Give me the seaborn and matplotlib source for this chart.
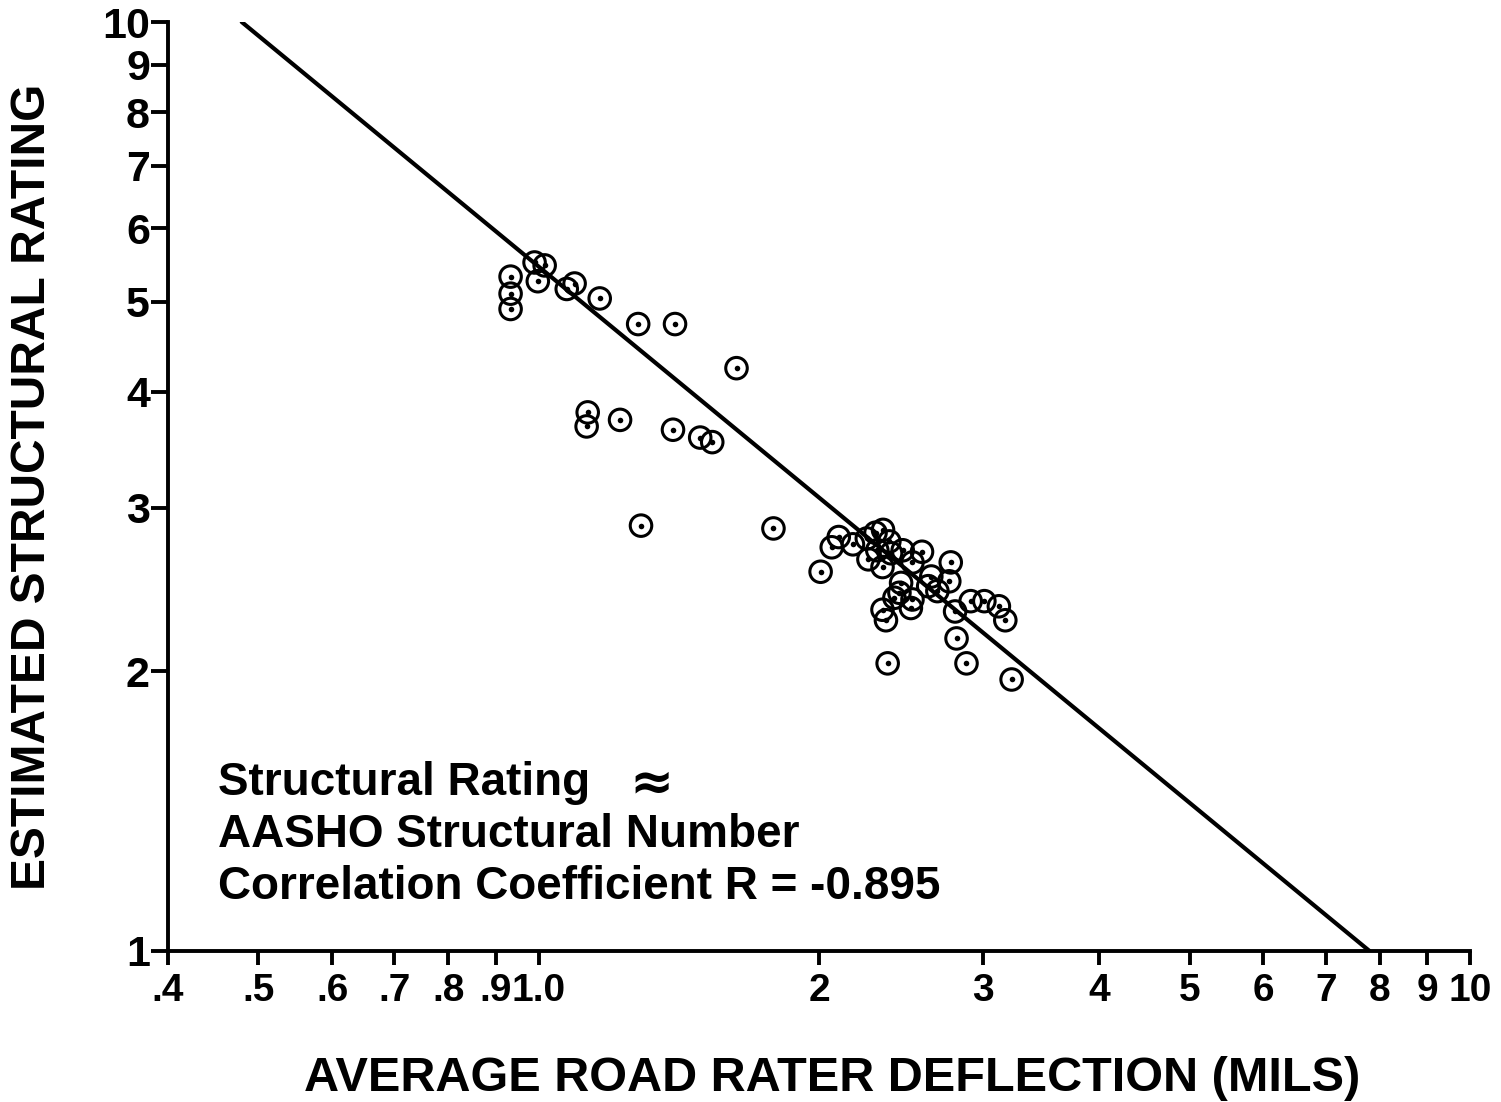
import numpy as np
import pandas as pd
import matplotlib
matplotlib.use("Agg")
import matplotlib.pyplot as plt
import seaborn as sns
from matplotlib.ticker import FixedLocator, FixedFormatter, NullLocator

# ---------------- data ----------------
deflection = [0.933, 0.933, 0.933, 0.990, 1.015, 0.998, 1.072, 1.093, 1.163,
              1.279, 1.401, 1.631, 1.129, 1.126, 1.223, 1.394, 1.491, 1.536,
              1.288, 1.787, 2.008, 2.064, 2.100, 2.175, 2.251, 2.300, 2.343,
              2.260, 2.310, 2.340, 2.380, 2.390, 2.460, 2.520, 2.580, 2.770,
              2.760, 2.640, 2.620, 2.680, 2.450, 2.440, 2.410, 2.520, 2.510,
              2.340, 2.360, 2.800, 2.910, 3.010, 3.120, 3.170, 2.810, 2.370,
              2.880, 3.220]
rating = [5.32, 5.10, 4.91, 5.51, 5.47, 5.26, 5.16, 5.23, 5.04,
          4.73, 4.73, 4.24, 3.80, 3.67, 3.73, 3.64, 3.57, 3.53,
          2.87, 2.85, 2.56, 2.72, 2.79, 2.74, 2.78, 2.82, 2.84,
          2.64, 2.70, 2.59, 2.76, 2.68, 2.70, 2.62, 2.69, 2.62,
          2.50, 2.53, 2.47, 2.44, 2.49, 2.43, 2.40, 2.39, 2.34,
          2.33, 2.27, 2.32, 2.38, 2.38, 2.35, 2.27, 2.17, 2.04,
          2.04, 1.96]

fit_x = [0.48, 7.8]
fit_y = [10.0, 1.0]

x_ticks = [0.4, 0.5, 0.6, 0.7, 0.8, 0.9, 1.0, 2, 3, 4, 5, 6, 7, 8, 9, 10]
x_tick_labels = [".4", ".5", ".6", ".7", ".8", ".9", "1.0", "2", "3", "4",
                 "5", "6", "7", "8", "9", "10"]
y_ticks = [1, 2, 3, 4, 5, 6, 7, 8, 9, 10]
y_tick_labels = ["1", "2", "3", "4", "5", "6", "7", "8", "9", "10"]

x_label = "AVERAGE ROAD RATER DEFLECTION (MILS)"
y_label = "ESTIMATED STRUCTURAL RATING"
note_lines = ["Structural Rating", "AASHO Structural Number",
              "Correlation Coefficient R = -0.895"]

# ---------------- style ----------------
sns.set_theme(style="white")
plt.rcParams["font.family"] = ["Liberation Sans", "DejaVu Sans"]
plt.rcParams["font.weight"] = "bold"

fig = plt.figure(figsize=(15.01, 11.02), dpi=100)
ax = fig.add_axes([168 / 1501, 1 - 951 / 1102, (1470 - 168) / 1501, (951 - 22) / 1102])

df = pd.DataFrame({"x": deflection, "y": rating})
line_df = pd.DataFrame({"x": fit_x, "y": fit_y})

sns.lineplot(data=line_df, x="x", y="y", ax=ax, color="black", linewidth=3,
             zorder=2)
sns.scatterplot(data=df, x="x", y="y", ax=ax, marker="o", s=240,
                facecolors="none", edgecolor="black", linewidth=2.2, zorder=3)
sns.scatterplot(data=df, x="x", y="y", ax=ax, marker="o", s=16,
                color="black", edgecolor="black", linewidth=0, zorder=4)

ax.set_xscale("log")
ax.set_yscale("log")
ax.set_xlim(0.4, 10)
ax.set_ylim(1, 10)

ax.xaxis.set_major_locator(FixedLocator(x_ticks))
ax.xaxis.set_major_formatter(FixedFormatter(x_tick_labels))
ax.xaxis.set_minor_locator(NullLocator())
ax.yaxis.set_major_locator(FixedLocator(y_ticks))
ax.yaxis.set_major_formatter(FixedFormatter(y_tick_labels))
ax.yaxis.set_minor_locator(NullLocator())

for s in ["top", "right"]:
    ax.spines[s].set_visible(False)
for s in ["left", "bottom"]:
    ax.spines[s].set_linewidth(2.8)
    ax.spines[s].set_color("black")

ax.tick_params(axis="x", which="major", direction="out", length=10, width=2.8,
               pad=6, labelsize=28, colors="black", bottom=True)
ax.tick_params(axis="y", which="major", direction="out", length=12, width=2.8,
               pad=1, labelsize=31, colors="black", left=True)
for lbl in ax.get_xticklabels() + ax.get_yticklabels():
    lbl.set_fontweight("bold")

ax.set_xlabel(x_label, fontsize=35, fontweight="bold", color="black")
ax.set_ylabel(y_label, fontsize=34.5, fontweight="bold", color="black")
ax.xaxis.set_label_coords(0.51, -0.113)
ax.yaxis.set_label_coords(-0.087, 0.50)

tx = (218 - 168) / 1302
ys = [(951 - 783) / 929, (951 - 835) / 929, (951 - 887) / 929]
for t, yy in zip(note_lines, ys):
    ax.text(tx, yy, t, transform=ax.transAxes, fontsize=33, fontweight="bold",
            va="center", ha="left", color="black")
ax.text((652 - 168) / 1302, ys[0], "\u2248", transform=ax.transAxes,
        fontsize=38, fontweight="bold", va="center", ha="center", color="black",
        family=["DejaVu Sans"])

ax.grid(False)
ax.set_facecolor("white")
fig.savefig("out.png", dpi=100, facecolor="white")
